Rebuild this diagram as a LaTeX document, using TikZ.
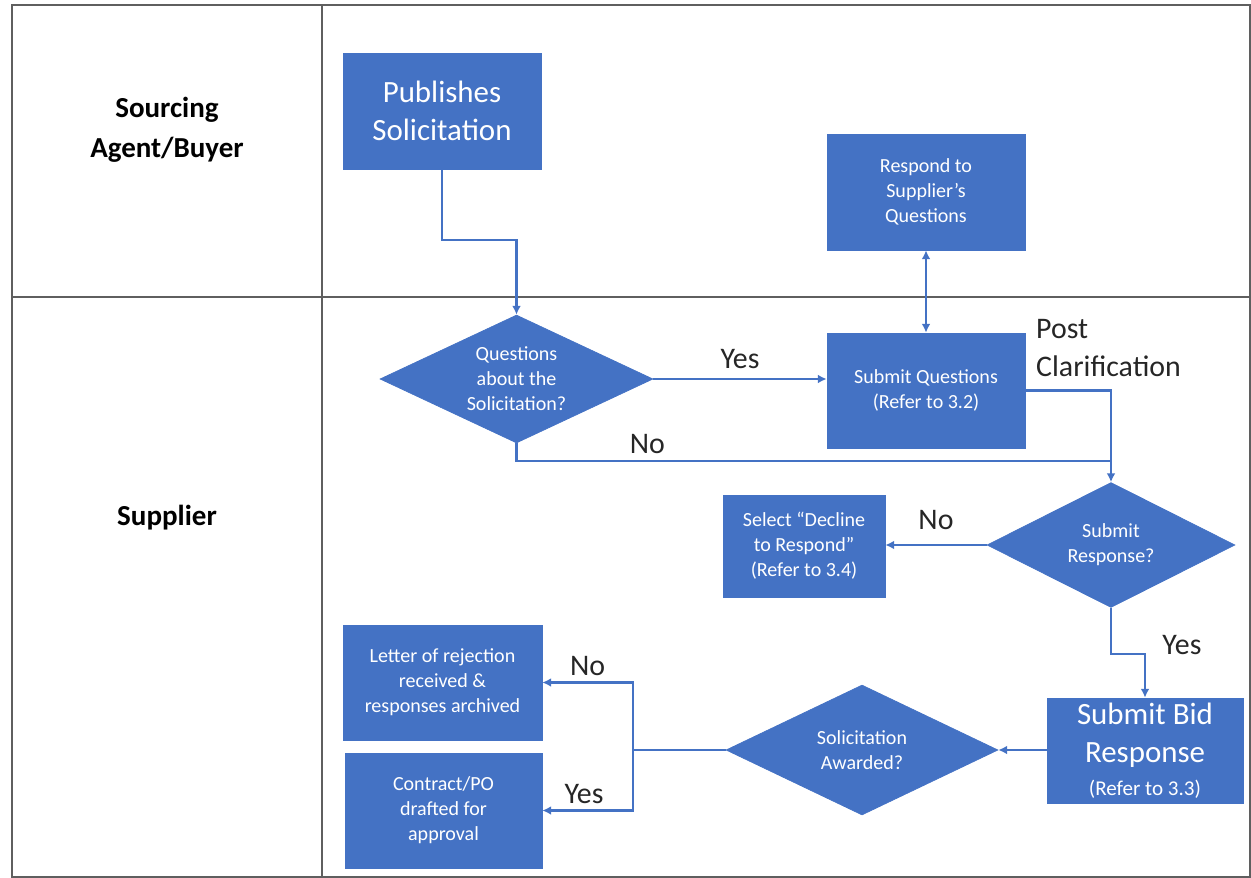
\documentclass[tikz,border=0pt]{standalone}
\usepackage{fontspec}
\setmainfont{Carlito}
\usetikzlibrary{shapes.geometric,arrows.meta}
\definecolor{officeblue}{RGB}{68,114,196}
\definecolor{lanegray}{RGB}{95,95,95}
\definecolor{labelblack}{RGB}{38,38,38}

\begin{document}
\begin{tikzpicture}[x=0.02cm, y=-0.02cm,
    box/.style={draw=officeblue, fill=officeblue, text=white, align=center, inner sep=2pt},
    smalltxt/.style={font=\fontsize{11.4}{14.2}\selectfont},
    bigtxt/.style={font=\fontsize{17.6}{21.8}\selectfont},
    decision/.style={diamond, draw=officeblue, fill=officeblue, text=white, align=center,
                     inner sep=0pt, shape aspect=2.1, font=\fontsize{11.4}{14.2}\selectfont},
    line/.style={draw=officeblue, line width=1.2pt},
    flow/.style={line, -{Latex[length=5pt,width=5pt]}},
    lbl/.style={text=labelblack, font=\fontsize{17}{22}\selectfont},
    lane/.style={text=black, align=center, font=\bfseries\fontsize{16.5}{22.8}\selectfont}]
      \useasboundingbox (0,0) rectangle (1251,878);
      % swim lanes
      \draw[lanegray, line width=1.2pt] (12,5) rectangle (1250,877)
            (322,5) -- (322,877)
            (12,297) -- (1250,297);
      \node[lane] (buyer) at (167,130) {Sourcing\\Agent/Buyer};
      \node[lane] (supplier) at (167,518) {Supplier};
      % boxes
      \node[box, bigtxt, minimum width=3.96cm, minimum height=2.32cm] (pub) at (442,111) {Publishes\\Solicitation};
      \node[box, smalltxt, minimum width=3.96cm, minimum height=2.32cm] (resp) at (926,192) {Respond to\\Supplier's\\Questions};
      \node[box, smalltxt, minimum width=3.96cm, minimum height=2.30cm] (sq) at (926,390.5) {Submit Questions\\(Refer to 3.2)};
      \node[box, smalltxt, minimum width=3.24cm, minimum height=2.04cm] (decline) at (804,546) {Select “Decline\\to Respond”\\(Refer to 3.4)};
      \node[box, bigtxt, minimum width=3.92cm, minimum height=2.10cm] (bid) at (1145,750.5)
            {Submit Bid\\Response\\[-3pt]{\fontsize{12}{14}\selectfont(Refer to 3.3)}};
      \node[box, smalltxt, minimum width=3.98cm, minimum height=2.30cm] (letter) at (442.5,682.5) {Letter of rejection\\received \&\\responses archived};
      \node[box, smalltxt, minimum width=3.94cm, minimum height=2.30cm] (contract) at (443.5,810.5) {Contract/PO\\drafted for\\approval};
      % decisions
      \node[decision, minimum width=5.46cm, minimum height=2.56cm] (q) at (516.5,379) {Questions\\about the\\Solicitation?};
      \node[decision, minimum width=4.96cm, minimum height=2.50cm] (sr) at (1111,545) {Submit\\Response?};
      \node[decision, minimum width=5.44cm, minimum height=2.60cm] (sa) at (862,750) {Solicitation\\Awarded?};
      \node[lbl, anchor=west, align=left] (post) at (1030,348) {Post\\Clarification};
      \coordinate (merge) at (1111,461);
      \coordinate (fork) at (633,750);
      % connectors
      \draw[flow] (pub.south) -- ++(0,71) -| (q.north);
      \draw[flow] (q.east) -- node[lbl, above=2pt] (yes1) {Yes} (q.east -| sq.west);
      \draw[line, {Latex[length=5pt,width=5pt]}-{Latex[length=5pt,width=5pt]}] (resp.south) -- (sq.north);
      \draw[flow] (sq.east) -| (sr.north);
      \draw[line] (q.south) |- node[lbl, pos=0.61, above] (no1) {No} (merge);
      \draw[flow] (sr.west) -- node[lbl, above=5pt] (no2) {No} (sr.west -| decline.east);
      \draw[flow] (sr.south) -- ++(0,46) -| node[lbl, pos=0.5, anchor=west, xshift=6pt, yshift=5pt] (yes2) {Yes} (bid.north);
      \draw[flow] (bid.west |- sa.east) -- (sa.east);
      \draw[line] (sa.west) -- (fork);
      \draw[flow] (fork) |- node[lbl, pos=0.75, above] (no3) {No} (letter.east);
      \draw[flow] (fork) |- node[lbl, pos=0.77, above] (yes3) {Yes} (contract.east);
\end{tikzpicture}
\end{document}
